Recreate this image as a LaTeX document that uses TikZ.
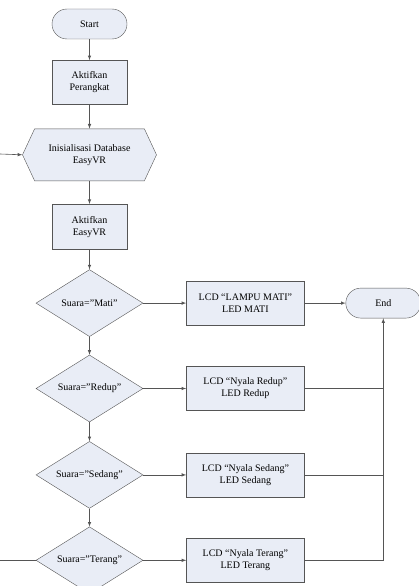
\documentclass[tikz,border=0pt]{standalone}
\usepackage{fontspec}
\setmainfont{Liberation Serif}
\usetikzlibrary{shapes,arrows,positioning,calc}
\definecolor{isian}{RGB}{233,237,246}
\definecolor{garis}{RGB}{85,85,85}

\begin{document}
\begin{tikzpicture}[x=1pt, y=-1pt, node distance=20pt,
		font=\fontsize{10}{12}\selectfont,
		terminal/.style={rectangle, draw=garis, fill=isian, rounded corners=15pt, minimum width=75pt, minimum height=30pt},
		proses/.style={rectangle, draw=garis, fill=isian, align=center, minimum width=75pt, minimum height=44pt},
		keluaran/.style={rectangle, draw=garis, fill=isian, align=center, minimum width=118pt, minimum height=44pt},
		pilihan/.style={diamond, aspect=1.6, draw=garis, fill=isian, inner sep=0pt, minimum width=107pt, minimum height=67pt},
		garisalir/.style={draw=garis, line width=0.6pt}]
				\useasboundingbox (0,0) rectangle (418,586);
				\node[terminal] (start) at (89.5,24) {Start};
				\node[proses, below=21pt of start] (aktif) {Aktifkan\\Perangkat};
				\node[signal, signal to=west and east, signal pointer angle=130, draw=garis, fill=isian, align=center, minimum width=134pt, minimum height=52pt, below=24pt of aktif] (init) {Inisialisasi Database\\EasyVR};
				\node[proses, minimum height=45pt, below=23pt of init] (easy) {Aktifkan\\EasyVR};
				\node[pilihan, below=20pt of easy] (mati) {Suara=”Mati”};
				\node[pilihan, below=18pt of mati] (redup) {Suara=”Redup”};
				\node[pilihan, below=19pt of redup] (sedang) {Suara=”Sedang”};
				\node[pilihan, below=18pt of sedang] (terang) {Suara=”Terang”};
				
				\node[keluaran, right=43pt of mati] (lcdmati) {LCD “LAMPU MATI”\\LED MATI};
				\node[keluaran, right=43pt of redup] (lcdredup) {LCD “Nyala Redup”\\LED Redup};
				\node[keluaran, right=43pt of sedang] (lcdsedang) {LCD “Nyala Sedang”\\LED Sedang};
				\node[keluaran, right=43pt of terang] (lcdterang) {LCD “Nyala Terang”\\LED Terang};
				\node[terminal, right=41pt of lcdmati] (end) {End};
				
				\coordinate (masuk) at (0,154);
				
				\draw[garisalir, -latex] (start) -- (aktif);
				\draw[garisalir, -latex] (aktif) -- (init);
				\draw[garisalir, -latex] (init) -- (easy);
				\draw[garisalir, -latex] (easy) -- (mati);
				\draw[garisalir, -latex] (mati) -- (redup);
				\draw[garisalir, -latex] (redup) -- (sedang);
				\draw[garisalir, -latex] (sedang) -- (terang);
				\draw[garisalir, -latex] (masuk) -- (init.west);
				\draw[garisalir] (terang.west) -- (terang.west -| masuk);
				
				\draw[garisalir, -latex] (mati) -- (lcdmati);
				\draw[garisalir, -latex] (redup) -- (lcdredup);
				\draw[garisalir, -latex] (sedang) -- (lcdsedang);
				\draw[garisalir, -latex] (terang) -- (lcdterang);
				\draw[garisalir, -latex] (lcdmati) -- (end);
				\draw[garisalir, -latex] (lcdterang.east) -| (end.south);
				\draw[garisalir] (lcdredup.east) -- (lcdredup.east -| end.south);
				\draw[garisalir] (lcdsedang.east) -- (lcdsedang.east -| end.south);
			\end{tikzpicture}
\end{document}
